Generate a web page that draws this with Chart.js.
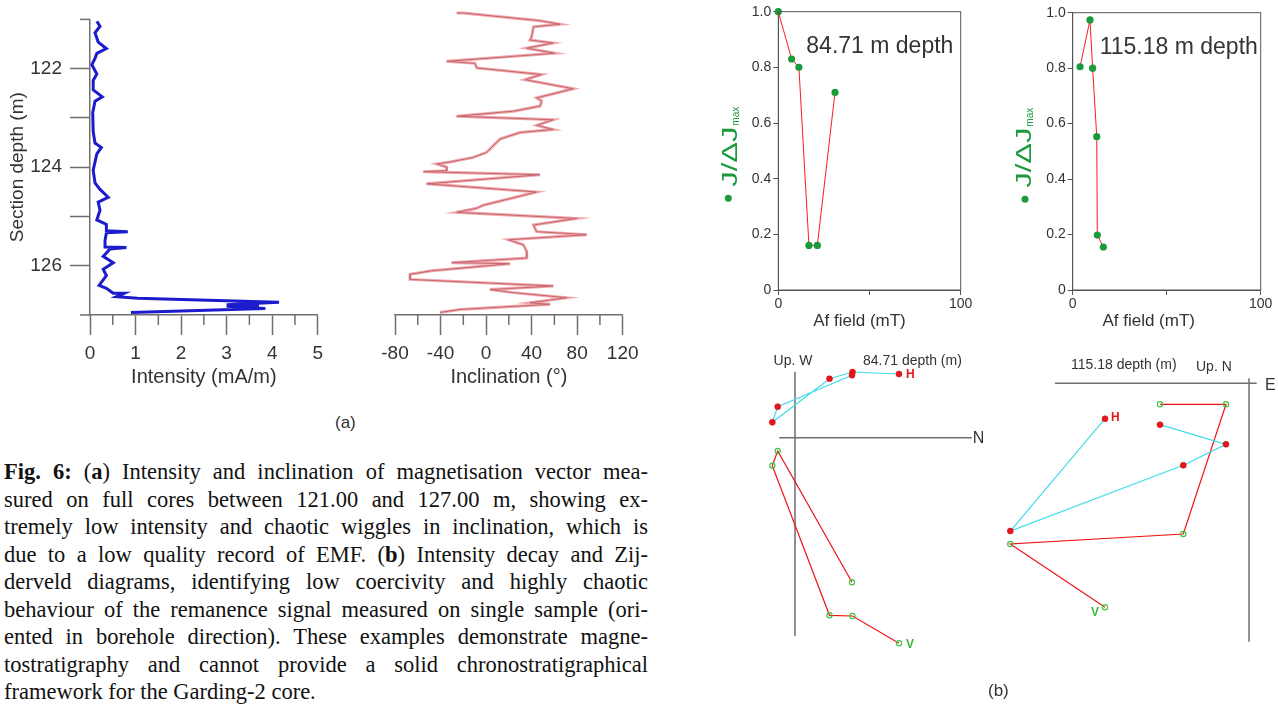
<!DOCTYPE html>
<html>
<head>
<meta charset="utf-8">
<script src="https://cdn.jsdelivr.net/npm/chart.js@4.4.1/dist/chart.umd.min.js"></script>
<style>
  body { margin: 0; background: #fff; width: 1278px; height: 705px; position: relative; overflow: hidden;
         font-family: "Liberation Sans", Arial, sans-serif; color: #333; }
  canvas { position: absolute; }
  .panel_label { position: absolute; font-size: 17px; color: #333; }
  #caption { position: absolute; left: 4px; top: 458px; width: 644px;
             font-family: "Liberation Serif", "Times New Roman", serif; font-size: 22.5px; color: #111; }
  .cap_line { height: 27.5px; line-height: 27.5px; white-space: nowrap; }
</style>
</head>
<body>

<canvas id="intensity_chart" width="330" height="400" style="left:0;top:0"></canvas>
<canvas id="inclination_chart" width="320" height="400" style="left:330px;top:0"></canvas>
<canvas id="decay_8471" width="290" height="340" style="left:700px;top:0"></canvas>
<canvas id="decay_11518" width="288" height="340" style="left:990px;top:0"></canvas>
<canvas id="zij_8471" width="260" height="330" style="left:740px;top:340px"></canvas>
<canvas id="zij_11518" width="288" height="330" style="left:990px;top:340px"></canvas>

<div class="panel_label" style="left:335px;top:413px">(a)</div>
<div class="panel_label" style="left:988px;top:681px">(b)</div>
<div id="caption"></div>

<script>
//----- (a) logs: depth (m) and measured values -----
const int_depth = [121.04, 121.14, 121.27, 121.46, 121.59, 121.69, 121.79, 121.92, 122.11, 122.24,
  122.43, 122.57, 122.66, 122.89, 123.28, 123.51, 123.60, 123.73, 124.06, 124.32, 124.45, 124.61,
  124.71, 124.87, 125.07, 125.16, 125.29, 125.31, 125.33, 125.49, 125.62, 125.63, 125.66, 125.81,
  125.94, 126.07, 126.20, 126.40, 126.46, 126.56, 126.56, 126.63, 126.66, 126.74, 126.79, 126.80,
  126.82, 126.87, 126.95];
const int_value = [0.15, 0.22, 0.11, 0.18, 0.36, 0.15, 0.11, 0.04, 0.15, 0.07,
  0.07, 0.27, 0.11, 0.06, 0.07, 0.11, 0.25, 0.15, 0.07, 0.11, 0.22, 0.40,
  0.18, 0.22, 0.15, 0.36, 0.36, 0.83, 0.36, 0.33, 0.33, 0.80, 0.44, 0.29,
  0.51, 0.29, 0.36, 0.20, 0.36, 0.51, 0.75, 0.58, 1.05, 4.15, 3.00, 3.71,
  3.00, 3.85, 0.90];

const inc_depth = [121.06, 121.06, 121.21, 121.28, 121.33, 121.53, 121.59, 121.65, 121.75, 121.85,
  122.01, 122.05, 122.14, 122.27, 122.37, 122.55, 122.73, 122.79, 122.89, 122.99,
  123.09, 123.16, 123.27, 123.35, 123.41, 123.54, 123.80, 123.90, 123.99, 124.03,
  124.09, 124.16, 124.18, 124.24, 124.42, 124.58, 124.84, 124.90, 124.98, 125.10,
  125.23, 125.36, 125.42, 125.52, 125.62, 125.75, 125.88, 125.97, 125.99, 126.13,
  126.20, 126.30, 126.43, 126.50, 126.56, 126.66, 126.76, 126.79, 126.89, 126.95];
const inc_value = [-25.8, -20, 47.4, 65, 41.6, 40, 38.6, 59, 35.7, 60.5,
  -34.6, -9.7, -8.3, 48.8, 34.2, 76.6, 44.4, 48.8, 47.4, 24,
  -25.8, 59, 44.4, 59, 29.8, 12.2, 0.5, -11.2, -31.7, -43.4,
  -34.6, -34.6, -55.1, 47.4, -52.2, 44.4, -2.4, -8.3, -25.8, 79.6,
  41.6, 44.4, 88.4, 19.6, 32.7, 35.7, 35.7, -30.2, 21, -47.8,
  -66.8, -66.8, 59, 3.4, 24, 70.8, 38.6, 56.2, -22.9, -40.5];

//----- (b) AF demagnetisation: field (mT) and J/ΔJmax -----
const af_8471 = [0, 7.3, 11.3, 16.8, 21.4, 31.1];
const j_8471 = [1.0, 0.83, 0.80, 0.16, 0.16, 0.71];
const af_11518 = [3.9, 9.2, 10.6, 12.8, 13.1, 16.3];
const j_11518 = [0.805, 0.974, 0.80, 0.553, 0.198, 0.155];

//----- (b) Zijderveld components (arbitrary units) -----
const zij_8471_n = [10.4, 5.75, 3.45, -2.27, -1.73, 5.7];
const zij_8471_w = [6.37, 6.57, 5.9, 1.54, 3.1, 6.24];
const zij_8471_up = [-20.56, -17.83, -17.76, -2.8, -1.33, -14.46];
const zij_11518_e = [-14.4, -23.87, -6.57, -2.3, -8.9];
const zij_11518_n = [-3.54, -14.77, -8.2, -6.1, -4.14];
const zij_11518_up = [-22.4, -16.07, -15.07, -2.1, -2.1];

//----- ticks -----
const depth_ticks = [121, 122, 123, 124, 125, 126, 127];
const depth_labels = [122, 124, 126];
const depth_minor = [121, 127];
const intensity_ticks = [0, 1, 2, 3, 4, 5];
const intensity_minor = [0.5, 1.5, 2.5, 3.5, 4.5];
const inclination_ticks = [-80, -40, 0, 40, 80, 120];
const inclination_minor = [-60, -20, 20, 60, 100];
const af_ticks = [0, 50, 100];
const af_labels = [0, 100];
const j_ticks = [0, 0.2, 0.4, 0.6, 0.8, 1.0];

Chart.defaults.font.family = '"Liberation Sans", Arial, sans-serif';
Chart.defaults.color = '#333';
Chart.defaults.animation = false;
Chart.defaults.responsive = false;
Chart.defaults.plugins.legend.display = false;
Chart.defaults.plugins.tooltip.enabled = false;

const AXIS = '#6e6e6e';
const set_ticks = list => axis => { axis.ticks = list.map(v => ({ value: v })); };
const points = (xs, ys) => xs.map((x, i) => ({ x: x, y: ys[i] }));

//short tick marks (minor ticks) drawn on an axis
function short_ticks(marks) {
	return {
		id: 'short_ticks',
		afterDraw(chart) {
			const ctx = chart.ctx;
			ctx.save();
			ctx.strokeStyle = AXIS;
			ctx.lineWidth = 1.5;
			marks.forEach(m => {
				const scale = chart.scales[m.axis];
				m.values.forEach(v => {
					const p = scale.getPixelForValue(v);
					ctx.beginPath();
					if (scale.isHorizontal()) {
						ctx.moveTo(p, scale.top);
						ctx.lineTo(p, scale.top + m.length);
					} else {
						ctx.moveTo(scale.right, p);
						ctx.lineTo(scale.right - m.length, p);
					}
					ctx.stroke();
				});
			});
			ctx.restore();
		}
	};
}

/* ---------------- (a) intensity ---------------- */
new Chart(document.getElementById('intensity_chart'), {
	type: 'line',
	data: {
		datasets: [{
			data: points(int_value, int_depth),
			borderColor: 'rgb(28,28,205)',
			borderWidth: 3,
			pointRadius: 0
		}]
	},
	options: {
		layout: { padding: { top: 10, right: 10.7, left: 0, bottom: 0 } },
		scales: {
			x: {
				type: 'linear', min: 0, max: 5,
				afterBuildTicks: set_ticks(intensity_ticks),
				afterFit: s => { s.height = 85; },
				ticks: { font: { size: 19 }, padding: 7 },
				grid: { drawOnChartArea: false, tickLength: 20, tickColor: AXIS, tickWidth: 1.5 },
				border: { color: AXIS, width: 1.5 },
				title: { display: true, text: 'Intensity (mA/m)', font: { size: 20 }, padding: { top: 0, bottom: 11 } }
			},
			y: {
				type: 'linear', min: 121, max: 127, reverse: true,
				afterBuildTicks: set_ticks(depth_ticks),
				afterFit: s => { s.width = 90; },
				ticks: { font: { size: 19 }, padding: 8, callback: v => depth_labels.includes(v) ? String(v) : '' },
				grid: {
					drawOnChartArea: false, tickLength: 20, tickWidth: 1.5,
					tickColor: c => depth_minor.includes(c.tick.value) ? 'rgba(0,0,0,0)' : AXIS
				},
				border: { color: AXIS, width: 1.5 },
				title: { display: true, text: 'Section depth (m)', font: { size: 19 }, padding: { top: 6 } }
			}
		}
	},
	plugins: [short_ticks([
		{ axis: 'x', values: intensity_minor, length: 10 },
		{ axis: 'y', values: depth_minor, length: 10 }
	])]
});

/* ---------------- (a) inclination ---------------- */
new Chart(document.getElementById('inclination_chart'), {
	type: 'line',
	data: {
		datasets: [{
			data: points(inc_value, inc_depth),
			borderColor: 'rgba(232,95,105,0.55)',
			borderWidth: 3,
			pointRadius: 0
		}, {
			data: points(inc_value, inc_depth),
			borderColor: 'rgb(150,118,118)',
			borderWidth: 1,
			pointRadius: 0
		}]
	},
	options: {
		layout: { padding: { top: 10, right: 27.3, left: 65, bottom: 0 } },
		scales: {
			x: {
				type: 'linear', min: -80, max: 120,
				afterBuildTicks: set_ticks(inclination_ticks),
				afterFit: s => { s.height = 85; },
				ticks: { font: { size: 19 }, padding: 7 },
				grid: { drawOnChartArea: false, tickLength: 20, tickColor: AXIS, tickWidth: 1.5 },
				border: { color: AXIS, width: 1.5 },
				title: { display: true, text: 'Inclination (°)', font: { size: 20 }, padding: { top: 0, bottom: 11 } }
			},
			y: { type: 'linear', display: false, min: 121, max: 127, reverse: true }
		}
	},
	plugins: [short_ticks([{ axis: 'x', values: inclination_minor, length: 10 }])]
});

/* ---------------- (b) decay plots ---------------- */
function decay_extras(o) {
	return {
		id: 'decay_extras',
		afterDraw(chart) {
			const ctx = chart.ctx;
			const a = chart.chartArea;
			ctx.save();
			//frame
			ctx.strokeStyle = '#555';
			ctx.lineWidth = 1;
			ctx.strokeRect(a.left, a.top, a.right - a.left, a.bottom - a.top);
			//depth title
			ctx.fillStyle = '#333';
			ctx.font = '23px "Liberation Sans"';
			ctx.textBaseline = 'middle';
			ctx.fillText(o.title, a.left + o.title_dx, a.top + 35);
			//x title
			ctx.font = '17px "Liberation Sans"';
			ctx.textAlign = 'center';
			ctx.fillText('Af field (mT)', (a.left + a.right) / 2 + o.xtitle_dx, a.bottom + 31);
			//y title: dot + J/ΔJmax, rotated
			ctx.fillStyle = '#1a9a3c';
			ctx.beginPath();
			ctx.arc(o.dot_x, a.top + 186.5, 3.5, 0, Math.PI * 2);
			ctx.fill();
			ctx.translate(o.base_x, a.top + 175);
			ctx.rotate(-Math.PI / 2);
			ctx.textAlign = 'left';
			ctx.textBaseline = 'alphabetic';
			ctx.font = '22px "Liberation Sans"';
			const w = ctx.measureText('J/ΔJ').width;
			ctx.save();
			ctx.scale(60 / w, 1);
			ctx.fillText('J/ΔJ', 0, 0);
			ctx.restore();
			ctx.font = '10px "Liberation Sans"';
			const w2 = ctx.measureText('max').width;
			ctx.translate(61, 2);
			ctx.scale(19 / w2, 1);
			ctx.fillText('max', 0, 0);
			ctx.restore();
		}
	};
}

function decay_chart(id, af, j, o) {
	new Chart(document.getElementById(id), {
		type: 'scatter',
		data: {
			datasets: [{
				data: points(af, j),
				showLine: true,
				borderColor: '#ff1a1a',
				borderWidth: 1,
				pointRadius: 3.6,
				pointBackgroundColor: '#1a9a3c',
				pointBorderWidth: 0,
				clip: false
			}]
		},
		options: {
			layout: { padding: { top: o.top, right: o.right, left: 0, bottom: 0 } },
			scales: {
				x: {
					type: 'linear', min: 0, max: 100,
					afterBuildTicks: set_ticks(af_ticks),
					afterFit: s => { s.height = 50; },
					ticks: { font: { size: 14 }, padding: 1, callback: v => af_labels.includes(v) ? String(v) : '' },
					grid: { drawOnChartArea: false, tickLength: 5, tickColor: '#555' },
					border: { color: '#555', width: 1 }
				},
				y: {
					type: 'linear', min: 0, max: 1,
					afterBuildTicks: set_ticks(j_ticks),
					afterFit: s => { s.width = o.left; },
					ticks: { font: { size: 14 }, padding: 2, callback: v => v === 0 ? '0' : v.toFixed(1) },
					grid: { drawOnChartArea: false, tickLength: 5, tickColor: '#555' },
					border: { color: '#555', width: 1 }
				}
			}
		},
		plugins: [decay_extras(o)]
	});
}

decay_chart('decay_8471', af_8471, j_8471,
	{ left: 78.3, right: 29.3, top: 11.7, title: '84.71 m depth', title_dx: 28, xtitle_dx: -10, dot_x: 28.3, base_x: 37 });
decay_chart('decay_11518', af_11518, j_11518,
	{ left: 82.7, right: 17.3, top: 12.7, title: '115.18 m depth', title_dx: 27, xtitle_dx: -18, dot_x: 35, base_x: 41 });

/* ---------------- (b) Zijderveld diagrams ---------------- */
//axes are drawn through 0 over the given extents [x from, x to, y from, y to]
function zij_extras(axes, texts) {
	return {
		id: 'zij_extras',
		beforeDatasetsDraw(chart) {
			const ctx = chart.ctx;
			const sx = chart.scales.x, sy = chart.scales.y;
			const x0 = sx.getPixelForValue(0), y0 = sy.getPixelForValue(0);
			ctx.save();
			ctx.strokeStyle = AXIS;
			ctx.lineWidth = 1.5;
			ctx.beginPath();
			ctx.moveTo(sx.getPixelForValue(axes[0]), y0);
			ctx.lineTo(sx.getPixelForValue(axes[1]), y0);
			ctx.moveTo(x0, sy.getPixelForValue(axes[3]));
			ctx.lineTo(x0, sy.getPixelForValue(axes[2]));
			ctx.stroke();
			ctx.restore();
		},
		afterDatasetsDraw(chart) {
			const ctx = chart.ctx;
			const sx = chart.scales.x, sy = chart.scales.y;
			const e = {
				x0: sx.getPixelForValue(0), y0: sy.getPixelForValue(0),
				right: sx.getPixelForValue(axes[1]), top: sy.getPixelForValue(axes[3])
			};
			const h0 = chart.getDatasetMeta(0).data[0];
			const v0 = chart.getDatasetMeta(1).data[0];
			ctx.save();
			ctx.textBaseline = 'middle';
			texts(e, h0, v0).forEach(t => {
				ctx.font = t.font;
				ctx.fillStyle = t.color || '#333';
				ctx.textAlign = t.align || 'left';
				ctx.fillText(t.text, t.x, t.y);
			});
			ctx.restore();
		}
	};
}

function zij_chart(id, xs, hs, vs, range, axes, pad, texts) {
	new Chart(document.getElementById(id), {
		type: 'scatter',
		data: {
			datasets: [{
				data: points(xs, hs),
				showLine: true,
				borderColor: '#3fdcec',
				borderWidth: 1.2,
				pointRadius: 3,
				pointBackgroundColor: '#e8161c',
				pointBorderColor: '#c40000',
				pointBorderWidth: 0.5,
				clip: false
			}, {
				data: points(xs, vs),
				showLine: true,
				borderColor: '#ee1414',
				borderWidth: 1.2,
				pointRadius: 2.6,
				pointBackgroundColor: 'rgba(255,255,255,0)',
				pointBorderColor: '#44c244',
				pointBorderWidth: 1.2,
				clip: false
			}]
		},
		options: {
			layout: { padding: pad },
			scales: {
				x: { type: 'linear', display: false, min: range[0], max: range[1] },
				y: { type: 'linear', display: false, min: range[2], max: range[3] }
			}
		},
		plugins: [zij_extras(axes, texts)]
	});
}

zij_chart('zij_8471', zij_8471_n, zij_8471_w, zij_8471_up,
	[-2.6, 17.67, -21.2, 7.0], [-1.57, 17.67, -19.83, 6.6],
	{ left: 29, right: 28.3, top: 27.7, bottom: 20.3 },
	(e, h0, v0) => [
		{ text: 'Up. W', font: '14px "Liberation Sans"', x: e.x0 - 2, y: e.top - 11, align: 'center' },
		{ text: '84.71 depth (m)', font: '14px "Liberation Sans"', x: e.x0 + 68, y: e.top - 11 },
		{ text: 'N', font: '16px "Liberation Sans"', x: e.right + 1, y: e.y0 + 1 },
		{ text: 'H', font: 'bold 12px "Liberation Sans"', color: '#e8161c', x: h0.x + 7, y: h0.y + 1 },
		{ text: 'V', font: 'bold 12px "Liberation Sans"', color: '#3cb83c', x: v0.x + 7, y: v0.y + 1 }
	]);

zij_chart('zij_11518', zij_11518_e, zij_11518_n, zij_11518_up,
	[-24.5, 0.77, -25.84, 0.5], [-19.4, 0.77, -25.84, 0.5],
	{ left: 14, right: 21.3, top: 38.3, bottom: 28.3 },
	(e, h0, v0) => [
		{ text: '115.18 depth (m)', font: '14px "Liberation Sans"', x: e.x0 - 178, y: e.top - 13 },
		{ text: 'Up. N', font: '14px "Liberation Sans"', x: e.x0 - 53, y: e.top - 11 },
		{ text: 'E', font: '16px "Liberation Sans"', x: e.x0 + 16, y: e.y0 + 2 },
		{ text: 'H', font: 'bold 12px "Liberation Sans"', color: '#e8161c', x: h0.x + 6, y: h0.y - 1 },
		{ text: 'V', font: 'bold 12px "Liberation Sans"', color: '#3cb83c', x: v0.x - 6, y: v0.y + 5, align: 'right' }
	]);

/* ---------------- caption ---------------- */
const caption_lines = [
	'<b>Fig. 6:</b> (<b>a</b>) Intensity and inclination of magnetisation vector mea-',
	'sured on full cores between 121.00 and 127.00 m, showing ex-',
	'tremely low intensity and chaotic wiggles in inclination, which is',
	'due to a low quality record of EMF. (<b>b</b>) Intensity decay and Zij-',
	'derveld diagrams, identifying low coercivity and highly chaotic',
	'behaviour of the remanence signal measured on single sample (ori-',
	'ented in borehole direction). These examples demonstrate magne-',
	'tostratigraphy and cannot provide a solid chronostratigraphical',
	'framework for the Garding-2 core.'
];
const caption = document.getElementById('caption');
const caption_width = 644;
caption_lines.forEach((html, i) => {
	const line = document.createElement('div');
	line.className = 'cap_line';
	const span = document.createElement('span');
	span.innerHTML = html;
	line.appendChild(span);
	caption.appendChild(line);
	if (i < caption_lines.length - 1) {
		const gaps = span.textContent.split(' ').length - 1;
		const extra = (caption_width - span.getBoundingClientRect().width) / gaps;
		span.style.wordSpacing = extra + 'px';
	}
});
</script>
</body>
</html>
